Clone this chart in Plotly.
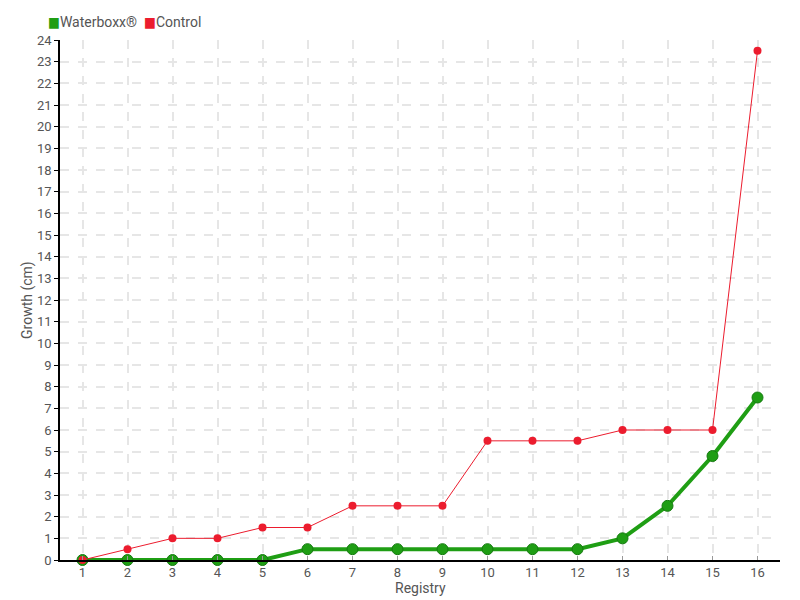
import plotly.graph_objects as go

registry = list(range(1, 17))
waterboxx = [0, 0, 0, 0, 0, 0.5, 0.5, 0.5, 0.5, 0.5, 0.5, 0.5, 1, 2.5, 4.8, 7.5]
control = [0, 0.5, 1, 1, 1.5, 1.5, 2.5, 2.5, 2.5, 5.5, 5.5, 5.5, 6, 6, 6, 23.5]
y_ticks = list(range(0, 25))

GREEN = "#1f9e14"
RED = "#ec1c2e"
FONT = "Roboto, DejaVu Sans Condensed, sans-serif"
TXT = "#555555"

fig = go.Figure()
fig.add_trace(go.Scatter(
    x=registry, y=waterboxx, mode="lines+markers", showlegend=False,
    line=dict(color=GREEN, width=4),
    marker=dict(color=GREEN, size=11, line=dict(color="#157a10", width=1)),
    cliponaxis=False,
))
fig.add_trace(go.Scatter(
    x=registry, y=control, mode="lines+markers", showlegend=False,
    line=dict(color=RED, width=1),
    marker=dict(color=RED, size=8),
    cliponaxis=False,
))

fig.add_annotation(
    xref="paper", yref="paper", x=0, y=1.0, xshift=-14, yshift=18, xanchor="left", yanchor="middle",
    showarrow=False, align="left",
    text=(f"<span style='color:{GREEN}'>■</span>Waterboxx®  "
          f"<span style='color:{RED}'>■</span>Control"),
    font=dict(family=FONT, size=14, color=TXT),
)
fig.add_annotation(
    xref="paper", yref="paper", x=0, y=0, yshift=-28, xanchor="center", yanchor="middle",
    showarrow=False, text="Registry", font=dict(family=FONT, size=14, color=TXT),
)
fig.add_annotation(
    xref="paper", yref="paper", x=0, y=0.5, xshift=-33, xanchor="center", yanchor="middle",
    showarrow=False, text="Growth (cm)", textangle=-90,
    font=dict(family=FONT, size=14, color=TXT),
)
fig.layout.annotations[1].x = 0.5

fig.update_layout(
    width=800, height=600,
    margin=dict(l=52, r=28, t=32, b=48),
    plot_bgcolor="white", paper_bgcolor="white",
    font=dict(family=FONT, size=13, color=TXT),
    showlegend=False,
    xaxis=dict(
        range=[0.5, 16.5], tickmode="array", tickvals=registry,
        ticktext=[str(r) for r in registry],
        showline=True, linecolor="black", linewidth=1.5,
        ticks="inside", ticklen=4, tickcolor="#999",
        showgrid=True, gridcolor="#e6e6e6", griddash="dash", gridwidth=1.5,
        zeroline=False, automargin=False,
        tickfont=dict(size=13),
    ),
    yaxis=dict(
        range=[0, 24], tickmode="array", tickvals=y_ticks,
        showline=True, linecolor="black", linewidth=1.5,
        ticks="outside", ticklen=4, tickcolor="black",
        showgrid=True, gridcolor="#e6e6e6", griddash="dash", gridwidth=1.5,
        zeroline=False, automargin=False,
        tickfont=dict(size=13),
    ),
)

fig.write_html("out.html")
